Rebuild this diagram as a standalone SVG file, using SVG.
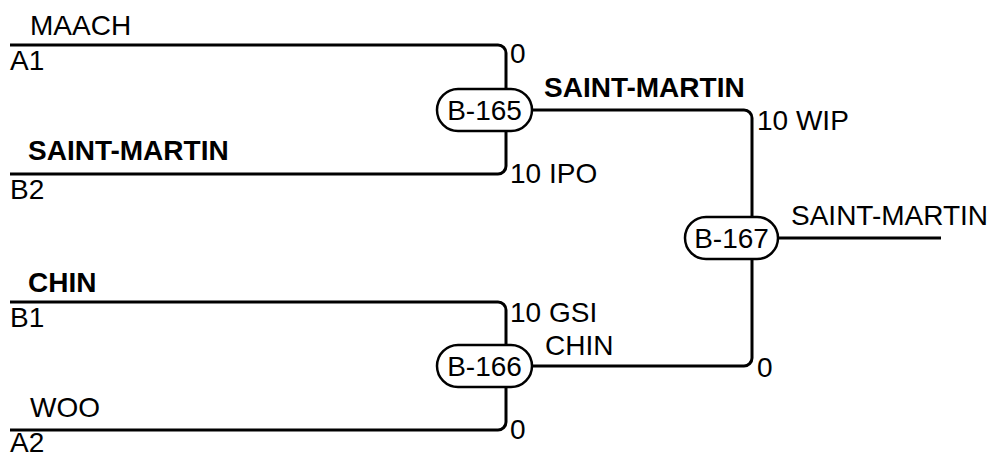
<svg xmlns="http://www.w3.org/2000/svg" width="993" height="455" viewBox="0 0 993 455">
<style>
text{font-family:"Liberation Sans",Arial,sans-serif;font-size:28px;fill:#000}
.b{font-weight:bold}
.c{text-anchor:middle}
.ln{fill:none;stroke:#000;stroke-width:3}
.pill{fill:#fff;stroke:#000;stroke-width:2.5}
</style>
<rect width="993" height="455" fill="#fff"/>
<g id="connectors">
<path class="ln" d="M10,45 H498 A8,8 0 0 1 506,53 V166 A8,8 0 0 1 498,174 H10"/>
<path class="ln" d="M10,302 H498 A8,8 0 0 1 506,310 V422 A8,8 0 0 1 498,430 H10"/>
<path class="ln" d="M532,110 H744 A8,8 0 0 1 752,118 V358 A8,8 0 0 1 744,366 H532"/>
<path class="ln" d="M778,238 H941"/>
</g>
<g id="labels">
<text x="30" y="35">MAACH</text>
<text x="10" y="70">A1</text>
<text class="b" x="28" y="160">SAINT-MARTIN</text>
<text x="10" y="199">B2</text>
<text class="b" x="28" y="292">CHIN</text>
<text x="10" y="327">B1</text>
<text x="30" y="417">WOO</text>
<text x="10" y="452">A2</text>
<text x="510" y="63">0</text>
<text x="510" y="183">10 IPO</text>
<text class="b" x="544" y="97">SAINT-MARTIN</text>
<text x="757" y="130">10 WIP</text>
<text x="510" y="322">10 GSI</text>
<text x="545" y="355">CHIN</text>
<text x="757" y="377">0</text>
<text x="510" y="439">0</text>
<text x="791" y="225">SAINT-MARTIN</text>
</g>
<g id="B-165">
<rect class="pill" x="437" y="89" width="95" height="42" rx="21"/>
<text class="c" x="484.5" y="120">B-165</text>
</g>
<g id="B-166">
<rect class="pill" x="437" y="345" width="95" height="42" rx="21"/>
<text class="c" x="484.5" y="376">B-166</text>
</g>
<g id="B-167">
<rect class="pill" x="685" y="217" width="93" height="42" rx="21"/>
<text class="c" x="731.5" y="248">B-167</text>
</g>
</svg>
